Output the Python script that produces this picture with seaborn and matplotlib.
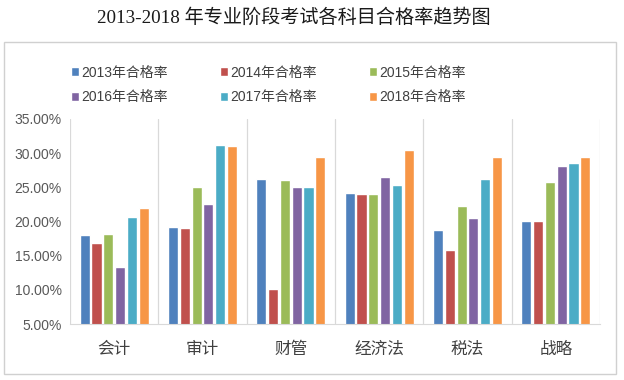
import pandas as pd
import matplotlib.pyplot as plt
import matplotlib.patches as mpatches
from matplotlib.ticker import FuncFormatter
import seaborn as sns

# pass rates (%)
subjects = ['会计', '审计', '财管', '经济法', '税法', '战略']
years = ['2013年合格率', '2014年合格率', '2015年合格率',
         '2016年合格率', '2017年合格率', '2018年合格率']
rate_2013 = [18.0, 19.2, 26.2, 24.1, 18.7, 20.0]
rate_2014 = [16.8, 19.1, 10.1, 24.0, 15.8, 20.0]
rate_2015 = [18.2, 25.0, 26.1, 24.0, 22.3, 25.8]
rate_2016 = [13.3, 22.5, 25.0, 26.5, 20.5, 28.1]
rate_2017 = [20.6, 31.2, 25.0, 25.3, 26.2, 28.6]
rate_2018 = [22.0, 31.0, 29.4, 30.5, 29.4, 29.4]
colors = ['#4F81BD', '#C0504D', '#9BBB59', '#8064A2', '#4BACC6', '#F79646']

rows = []
for yr, vals in zip(years, [rate_2013, rate_2014, rate_2015, rate_2016, rate_2017, rate_2018]):
    for s, v in zip(subjects, vals):
        rows.append({'科目': s, '年份': yr, '合格率': v})
df = pd.DataFrame(rows)

sns.set_style('white')
plt.rcParams['font.family'] = ['Liberation Sans', 'Noto Sans CJK SC']

fig = plt.figure(figsize=(6.24, 3.80), dpi=100)
ax = fig.add_axes([70 / 624, 1 - 324 / 380, 530 / 624, 205 / 380])

sns.barplot(data=df, x='科目', y='合格率', hue='年份', hue_order=years,
            palette=colors, saturation=1, width=0.8, gap=0.15, ax=ax, legend=True)

ax.set_ylim(5, 35)
ax.set_yticks([5, 10, 15, 20, 25, 30, 35])
ax.yaxis.set_major_formatter(FuncFormatter(lambda v, p: f'{v:.2f}%'))
ax.set_xlim(-0.5, 5.5)
ax.set_xlabel('')
ax.set_ylabel('')
ax.tick_params(axis='y', labelsize=10, labelcolor='#595959', length=0, pad=6)
ax.tick_params(axis='x', labelsize=12, labelcolor='#404040', length=0, pad=12)
for lab in ax.get_xticklabels():
    lab.set_family(['Noto Sans CJK SC'])
    lab.set_fontweight('light')

# category separators
for x in [-0.5, 0.5, 1.5, 2.5, 3.5, 4.5, 5.5]:
    ax.axvline(x, color='#d9d9d9', lw=0.9, zorder=0)
for sp in ['top', 'right', 'left']:
    ax.spines[sp].set_visible(False)
ax.spines['bottom'].set_color('#d9d9d9')

handles, labels = ax.get_legend_handles_labels()
ax.get_legend().remove()
order = [0, 3, 1, 4, 2, 5]  # row-major fill
fig.legend([handles[i] for i in order], [labels[i] for i in order], ncol=3,
           loc='center left', bbox_to_anchor=(58 / 624, 1 - 85 / 380), frameon=False,
           fontsize=10, handlelength=0.6, handleheight=0.6, handletextpad=0.2,
           columnspacing=3.7, labelspacing=0.75, labelcolor='#404040')

# outer chart frame
fig.patches.append(mpatches.Rectangle((4 / 624, 1 - 374 / 380), 612 / 624, 332 / 380,
                                      transform=fig.transFigure, fill=False,
                                      edgecolor='#d0d0d0', lw=1))

fig.text(294 / 624, 1 - 18 / 380, '2013-2018 年专业阶段考试各科目合格率趋势图',
         ha='center', va='center', fontsize=13.8, color='#1a1a1a',
         family=['Liberation Serif', 'Noto Sans CJK SC'])

fig.savefig('out.png', dpi=100)
